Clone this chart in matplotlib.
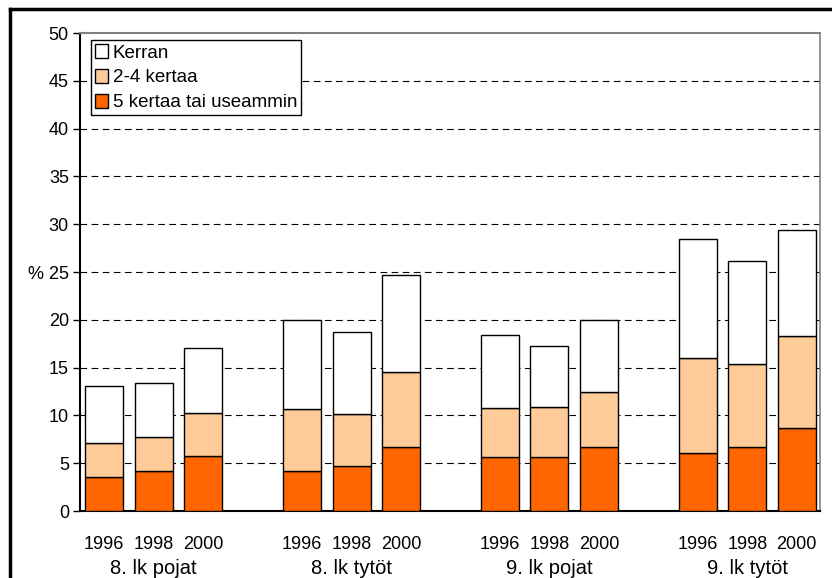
import numpy as np
import matplotlib
matplotlib.use('Agg')
import matplotlib.pyplot as plt
from matplotlib.lines import Line2D
import matplotlib.transforms as mtransforms

plt.rcParams['font.family'] = ['Liberation Sans', 'DejaVu Sans']

# 数据
groups = ['8. lk pojat', '8. lk tytöt', '9. lk pojat', '9. lk tytöt']
years = ['1996', '1998', '2000']
series_names = ['Kerran', '2-4 kertaa', '5 kertaa tai useammin']

# 累计高度读取：顶部, 中间, 底部
total = [13.1, 13.4, 17.1, 20.0, 18.7, 24.7, 18.4, 17.3, 20.0, 28.5, 26.1, 29.4]
mid = [7.1, 7.7, 10.3, 10.7, 10.1, 14.5, 10.8, 10.9, 12.5, 16.0, 15.4, 18.3]
five_plus = [3.6, 4.2, 5.8, 4.2, 4.7, 6.7, 5.6, 5.6, 6.7, 6.1, 6.7, 8.7]

two_four = np.array(mid) - np.array(five_plus)
kerran = np.array(total) - np.array(mid)

colors = ['#FFFFFF', '#FFCC99', '#FF6600']

fig = plt.figure(figsize=(8.32, 5.78), dpi=100)
ax = fig.add_axes([0.0962, 0.1159, 0.8894, 0.827])

x = []
for g in range(len(groups)):
    for j in range(len(years)):
        x.append(g * 4 + j)
x = np.array(x)

w = 0.77
ax.bar(x, five_plus, w, color=colors[2], edgecolor='black', linewidth=1, zorder=3,
       label=series_names[2])
ax.bar(x, two_four, w, bottom=five_plus, color=colors[1], edgecolor='black',
       linewidth=1, zorder=3, label=series_names[1])
ax.bar(x, kerran, w, bottom=mid, color=colors[0], edgecolor='black',
       linewidth=1, zorder=3, label=series_names[0])

ax.set_xlim(-0.49, 14.47)
ax.set_ylim(0, 50)
ax.set_yticks(range(0, 51, 5))
ax.set_yticklabels(['% 25' if v == 25 else str(v) for v in range(0, 51, 5)])
ax.tick_params(axis='y', labelsize=13, length=5, width=1, direction='out', pad=3)

ax.set_xticks(x)
ax.set_xticklabels(years * len(groups))
ax.tick_params(axis='x', labelsize=13, length=0, pad=18)

trans = mtransforms.blended_transform_factory(ax.transData, ax.transAxes)
for g, name in enumerate(groups):
    ax.text(g * 4 + 1, -0.12, name, transform=trans, ha='center', va='center',
            fontsize=14.5)

# 网格
for v in range(5, 50, 5):
    ax.axhline(v, color='black', linewidth=0.8, linestyle=(0, (6, 4)), zorder=1)

ax.spines['left'].set_linewidth(1.5)
ax.spines['bottom'].set_linewidth(1.5)
ax.spines['top'].set_color('#808080')
ax.spines['right'].set_color('#808080')
ax.spines['top'].set_linewidth(1.5)
ax.spines['right'].set_linewidth(1.2)

handles, labels = ax.get_legend_handles_labels()
leg = ax.legend(handles[::-1], labels[::-1], loc='upper left',
                bbox_to_anchor=(0.015, 0.985), fontsize=13.5, frameon=True,
                fancybox=False, framealpha=1, edgecolor='black',
                handlelength=0.7, handleheight=0.8, handletextpad=0.25,
                borderpad=0.2, labelspacing=0.38, borderaxespad=0)
leg.get_frame().set_linewidth(1)
leg.set_zorder(5)

# 外框
fig.add_artist(Line2D([0.012, 1.0], [0.984, 0.984], color='black', linewidth=2.5,
                      transform=fig.transFigure))
fig.add_artist(Line2D([0.012, 0.012], [0.0, 0.984], color='black', linewidth=2.5,
                      transform=fig.transFigure))

fig.savefig('out.png', dpi=100)
